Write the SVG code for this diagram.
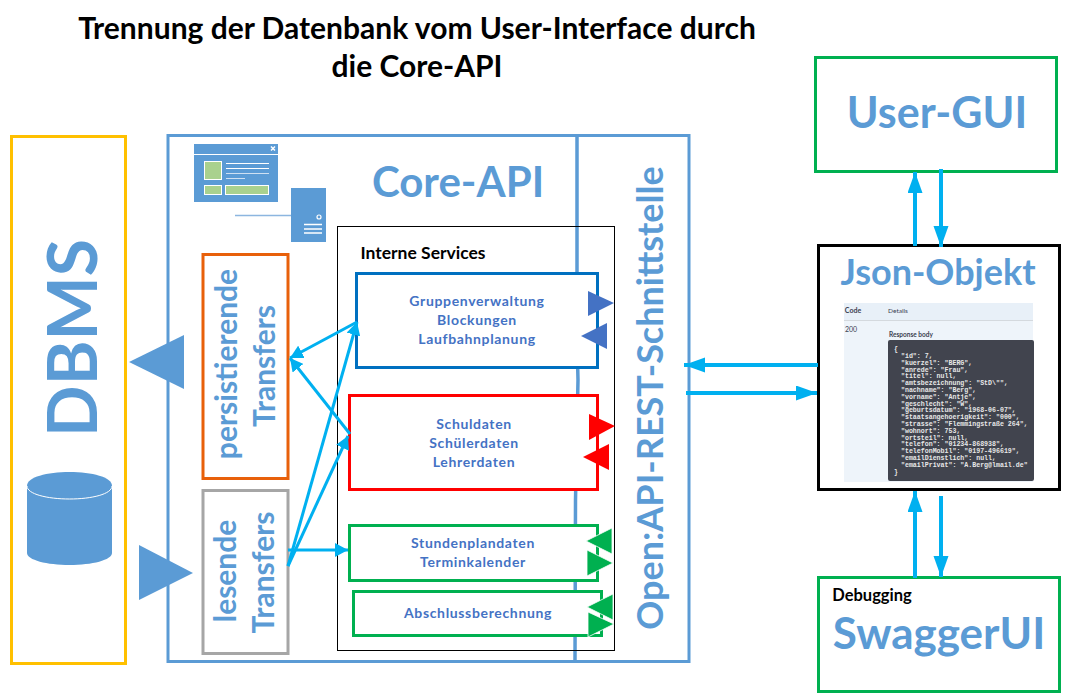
<svg xmlns="http://www.w3.org/2000/svg" width="1070" height="694" viewBox="0 0 1070 694">
<style>
text{font-family:Lato,"Liberation Sans",sans-serif;text-anchor:middle}
.t{font-weight:700;fill:#000;font-size:30px}
.b{font-weight:700;fill:#5b9bd5}
.s{font-weight:700;fill:#4472c4;font-size:14px;letter-spacing:.65px}
.box{fill:#fff;stroke-width:3}
.c{stroke:#00b0f0;stroke-width:3;fill:none;marker-end:url(#a)}
.d{stroke:#00b0f0;stroke-width:4;fill:none;marker-end:url(#e)}
.w{stroke:#fff;fill:none}
.j{font-family:"Liberation Mono",monospace;font-size:6.600px;fill:#e8e8e8;text-anchor:start;font-weight:700}
</style>
<defs>
<marker id="a" markerUnits="userSpaceOnUse" markerWidth="14" markerHeight="14" refX="13" refY="7" orient="auto"><path d="M0 0L13 7L0 14Z" fill="#00b0f0"/></marker>
<marker id="e" markerUnits="userSpaceOnUse" markerWidth="22" markerHeight="16" refX="21" refY="7.500" orient="auto"><path d="M0 0L21 7.500L0 15Z" fill="#00b0f0"/></marker>
</defs>
<rect width="1070" height="694" fill="#fff"/>
<g id="title"><text class="t" x="417" y="39">Trennung der Datenbank vom User-Interface durch</text><text class="t" x="417" y="77">die Core-API</text></g>
<g id="dbms">
<rect x="11.500" y="136.500" width="114" height="527" fill="#fff" stroke="#ffc000" stroke-width="3"/>
<text class="b" transform="translate(97,338) rotate(-90)" font-size="68">DBMS</text>
<path d="M27 486C27 477 47 472 69.500 472C92 472 112 477 112 486V553C112 560 92 565 69.500 565C47 565 27 560 27 553Z" fill="#5b9bd5"/>
<path d="M27 486C27 494 47 499 69.500 499C92 499 112 494 112 486" fill="none" stroke="#fff"/>
</g>
<g id="core-api">
<rect x="168" y="135.500" width="521" height="526" fill="#fff" stroke="#5b9bd5" stroke-width="3"/>
<path d="M577 135V340L578 380L575.500 500L575 661" fill="none" stroke="#5b9bd5" stroke-width="3.500"/>
<text class="b" x="458" y="197" font-size="42">Core-API</text>
<text class="b" transform="translate(663,398) rotate(-90)" font-size="36">Open:API-REST-Schnittstelle</text>
</g>
<g id="dbms-arrows" fill="#5b9bd5"><path d="M129 362L184 335V389Z"/><path d="M139 545L193 573L139 600Z"/></g>
<g id="core-icon">
<rect x="194" y="144" width="84" height="58" fill="#5b9bd5"/>
<path class="w" d="M194 154.500H278M226 163.500H269M226 168.500H269" stroke-width="1"/>
<path d="M226 173.500H269M226 178.500H245" stroke="#cfe0f2" fill="none"/>
<path d="M271 146.500L275 150.500M275 146.500L271 150.500" class="w" stroke-width="1.500"/>
<g fill="#a9d18e" stroke="#fff"><rect x="204.500" y="161.500" width="17" height="18"/><rect x="204.500" y="185.500" width="17" height="9"/><rect x="225.500" y="185.500" width="43" height="9"/></g>
<rect x="291" y="188" width="35" height="54" fill="#5b9bd5"/>
<path d="M235 215.500H291" stroke="#8db6e0" stroke-width="1.500"/>
<circle cx="319" cy="217" r="2" fill="none" stroke="#fff" stroke-width="1.200"/>
<path class="w" d="M304 224.500H322M304 229H322M304 233H322" stroke-width="1.500"/>
</g>
<g id="persistierende"><rect class="box" x="203" y="254.500" width="85" height="224" stroke="#e8600a"/><text class="b" font-size="30" transform="translate(237,364) rotate(-90)">persistierende</text><text class="b" font-size="30" transform="translate(275,366) rotate(-90)">Transfers</text></g>
<g id="lesende"><rect class="box" x="203" y="490.500" width="85" height="163" stroke="#a6a6a6"/><text class="b" font-size="30" transform="translate(236,571) rotate(-90)">lesende</text><text class="b" font-size="30" transform="translate(274,572.500) rotate(-90)">Transfers</text></g>
<g id="interne-services">
<rect x="337.500" y="226.500" width="277" height="424" fill="#fff" fill-opacity="0" stroke="#000"/>
<text x="423" y="258.500" font-size="17.500" font-weight="700" fill="#000">Interne Services</text>
</g>
<g id="gruppen"><rect class="box" x="356.500" y="273.500" width="241" height="94" stroke="#0070c0"/><text class="s" x="477" y="306">Gruppenverwaltung</text><text class="s" x="477" y="325">Blockungen</text><text class="s" x="477" y="344">Laufbahnplanung</text><g fill="#4472c4"><path d="M588 291L614 303L588 316Z"/><path d="M581 336L607 323V349Z"/></g></g>
<g id="schul"><rect class="box" x="349.500" y="395.500" width="248" height="94" stroke="#f00"/><text class="s" x="474" y="429">Schuldaten</text><text class="s" x="474" y="448">Schülerdaten</text><text class="s" x="474" y="467">Lehrerdaten</text><g fill="#f00"><path d="M589 414L615 426L589 440Z"/><path d="M583 457L609 444V470Z"/></g></g>
<g id="stunden"><rect class="box" x="349.500" y="525.500" width="248" height="55" stroke="#00b050"/><text class="s" x="473" y="548">Stundenplandaten</text><text class="s" x="473" y="567">Terminkalender</text><g fill="#00b050" stroke="#fff" stroke-width=".8"><path d="M586 541L612 528V554Z"/><path d="M587 550L613 563L587 576Z"/></g></g>
<g id="abschluss"><rect class="box" x="353.500" y="591.500" width="248" height="44" stroke="#00b050"/><text class="s" x="478" y="618">Abschlussberechnung</text><g fill="#00b050" stroke="#fff" stroke-width=".8"><path d="M587 607L613 594V620Z"/><path d="M588 612L614 624L588 637Z"/></g></g>
<g id="user-gui"><rect x="815.500" y="57.500" width="241" height="114" fill="#fff" stroke="#00b050" stroke-width="3"/><text class="b" x="937" y="128" font-size="43">User-GUI</text></g>
<g id="json-objekt">
<rect x="818.500" y="245.500" width="241" height="244" fill="#fff" stroke="#000" stroke-width="3"/>
<text class="b" x="938" y="285" font-size="36">Json-Objekt</text>
<rect x="844" y="303" width="189" height="179" fill="#eef4fa"/><rect x="844" y="303" width="189" height="17" fill="#e8f0f8"/>
<path d="M844 320.500H1033" stroke="#d4d9de"/>
<text x="853" y="313" font-size="7" font-weight="700" fill="#3b4151">Code</text>
<text x="898" y="312.500" font-size="6.500" fill="#3b4151">Details</text>
<text x="851" y="332" font-size="7" fill="#3b4151">200</text>
<text x="911" y="337" font-size="6.500" font-weight="700" fill="#3b4151">Response body</text>
<rect x="888" y="340" width="146" height="141" rx="2" fill="#41444e"/>
<g class="code">
<text class="j" x="894" y="351">{</text><text class="j" x="901" y="358">"id": 7,</text><text class="j" x="901" y="364.800">"kuerzel": "BERG",</text><text class="j" x="901" y="371.600">"anrede": "Frau",</text><text class="j" x="901" y="378.400">"titel": null,</text><text class="j" x="901" y="385.200">"amtsbezeichnung": "StD\"",</text><text class="j" x="901" y="392">"nachname": "Berg",</text><text class="j" x="901" y="398.800">"vorname": "Antje",</text><text class="j" x="901" y="405.600">"geschlecht": "W",</text><text class="j" x="901" y="412.400">"geburtsdatum": "1968-06-07",</text><text class="j" x="901" y="419.200">"staatsangehoerigkeit": "000",</text><text class="j" x="901" y="426">"strasse": "Flemmingstraße 264",</text><text class="j" x="901" y="432.800">"wohnort": 753,</text><text class="j" x="901" y="439.600">"ortsteil": null,</text><text class="j" x="901" y="446.400">"telefon": "01234-868938",</text><text class="j" x="901" y="453.200">"telefonMobil": "0197-496619",</text><text class="j" x="901" y="460">"emailDienstlich": null,</text><text class="j" x="901" y="466.800">"emailPrivat": "A.Berg@lmail.de"</text><text class="j" x="894" y="474">}</text>
</g>
</g>
<g id="swagger"><rect x="818.500" y="577.500" width="241" height="114" fill="#fff" stroke="#00b050" stroke-width="3"/><text x="872" y="601" font-size="16.500" font-weight="700" fill="#000">Debugging</text><text class="b" x="939" y="649" font-size="44">SwaggerUI</text></g>
<g id="connectors">
<path class="c" d="M357 322L290 358"/>
<path class="c" d="M350 434L290 358"/>
<path class="c" d="M288 566L357 322"/>
<path class="c" d="M288 566L348 436"/>
<path class="c" d="M288 550H348"/>
<path class="d" d="M818 365H684"/>
<path class="d" d="M686 393H817"/>
<path class="d" d="M915 246V172"/>
<path class="d" d="M941 169V247"/>
<path class="d" d="M915 578V491"/>
<path class="d" d="M941 496V577"/>
</g>
</svg>
